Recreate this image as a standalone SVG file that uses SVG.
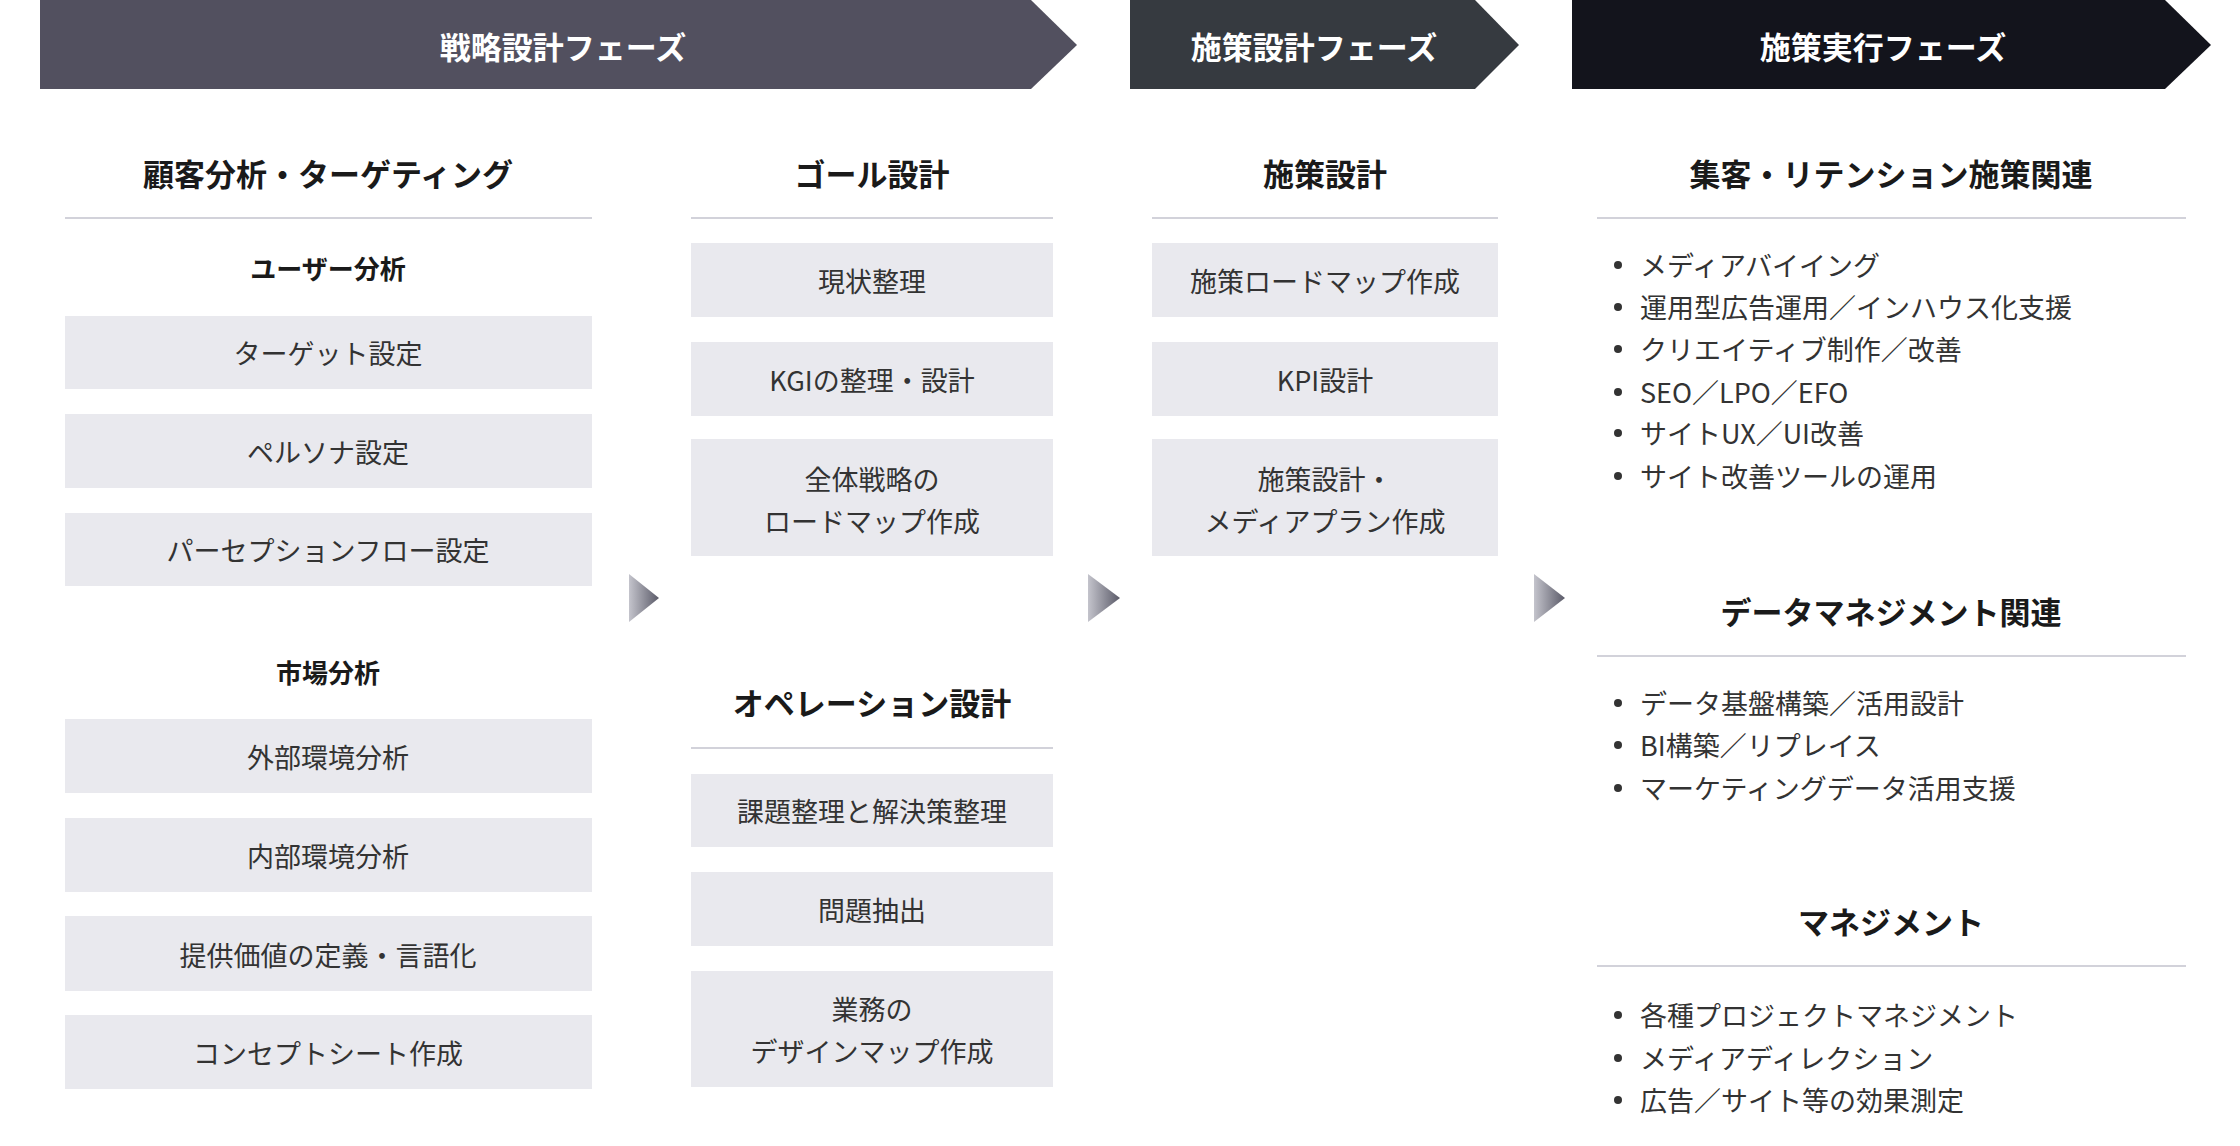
<svg xmlns="http://www.w3.org/2000/svg" width="2240" height="1146" viewBox="0 0 2240 1146">
<defs>
<linearGradient id="ag" x1="0" y1="0" x2="1" y2="0"><stop offset="0" stop-color="#c4c4cc"/><stop offset="1" stop-color="#5a5a68"/></linearGradient>
<style>
text{font-family:"Noto Sans CJK JP","Noto Sans",sans-serif;text-anchor:middle;dominant-baseline:central}
.ph{fill:#fff;font-size:31px;font-weight:bold}
.h{fill:#1a1a1a;font-size:31px;font-weight:bold}
.s{fill:#1a1a1a;font-size:26px;font-weight:bold}
.b{fill:#e9e9ee}
.t{fill:#333;font-size:27px}
.l{fill:#333;font-size:27px;text-anchor:start}
.ln{stroke:#d2d2da;stroke-width:2}
.dot{fill:#333}
</style>
</defs>
<g id="phase1"><polygon points="40,0 1031,0 1077,45 1031,89 40,89" fill="#52505f"/><text class="ph" x="563" y="45">戦略設計フェーズ</text></g>
<g id="phase2"><polygon points="1130,0 1475,0 1519,45 1475,89 1130,89" fill="#363a40"/><text class="ph" x="1314" y="45">施策設計フェーズ</text></g>
<g id="phase3"><polygon points="1572,0 2165,0 2211,45 2165,89 1572,89" fill="#13141c"/><text class="ph" x="1883" y="45">施策実行フェーズ</text></g>

<g id="connectors">
<polygon points="629,574 659,598 629,622" fill="url(#ag)"/>
<polygon points="1088,574 1120,598 1088,622" fill="url(#ag)"/>
<polygon points="1534,574 1565,598 1534,622" fill="url(#ag)"/>
</g>

<g id="col1">
<text class="h" x="328" y="172">顧客分析・ターゲティング</text>
<line class="ln" x1="65" y1="218" x2="592" y2="218"/>
<text class="s" x="328" y="267">ユーザー分析</text>
<rect class="b" x="65" y="316" width="527" height="73"/><text class="t" x="328" y="352">ターゲット設定</text>
<rect class="b" x="65" y="414" width="527" height="74"/><text class="t" x="328" y="451">ペルソナ設定</text>
<rect class="b" x="65" y="513" width="527" height="73"/><text class="t" x="328" y="549">パーセプションフロー設定</text>
<text class="s" x="328" y="671">市場分析</text>
<rect class="b" x="65" y="719" width="527" height="74"/><text class="t" x="328" y="756">外部環境分析</text>
<rect class="b" x="65" y="818" width="527" height="74"/><text class="t" x="328" y="855">内部環境分析</text>
<rect class="b" x="65" y="916" width="527" height="75"/><text class="t" x="328" y="954">提供価値の定義・言語化</text>
<rect class="b" x="65" y="1015" width="527" height="74"/><text class="t" x="328" y="1052">コンセプトシート作成</text>
</g>

<g id="col2">
<text class="h" x="872" y="172">ゴール設計</text>
<line class="ln" x1="691" y1="218" x2="1053" y2="218"/>
<rect class="b" x="691" y="243" width="362" height="74"/><text class="t" x="872" y="280">現状整理</text>
<rect class="b" x="691" y="342" width="362" height="74"/><text class="t" x="872" y="379">KGIの整理・設計</text>
<rect class="b" x="691" y="439" width="362" height="117"/><text class="t" x="872" y="478">全体戦略の</text><text class="t" x="872" y="520">ロードマップ作成</text>
<text class="h" x="872" y="701">オペレーション設計</text>
<line class="ln" x1="691" y1="748" x2="1053" y2="748"/>
<rect class="b" x="691" y="774" width="362" height="73"/><text class="t" x="872" y="810">課題整理と解決策整理</text>
<rect class="b" x="691" y="872" width="362" height="74"/><text class="t" x="872" y="909">問題抽出</text>
<rect class="b" x="691" y="971" width="362" height="116"/><text class="t" x="872" y="1008">業務の</text><text class="t" x="872" y="1050">デザインマップ作成</text>
</g>

<g id="col3">
<text class="h" x="1325" y="172">施策設計</text>
<line class="ln" x1="1152" y1="218" x2="1498" y2="218"/>
<rect class="b" x="1152" y="243" width="346" height="74"/><text class="t" x="1325" y="280">施策ロードマップ作成</text>
<rect class="b" x="1152" y="342" width="346" height="74"/><text class="t" x="1325" y="379">KPI設計</text>
<rect class="b" x="1152" y="439" width="346" height="117"/><text class="t" x="1325" y="478">施策設計・</text><text class="t" x="1325" y="520">メディアプラン作成</text>
</g>

<g id="col4">
<text class="h" x="1891" y="172">集客・リテンション施策関連</text>
<line class="ln" x1="1597" y1="218" x2="2186" y2="218"/>
<g>
<circle class="dot" cx="1618" cy="265" r="4"/><text class="l" x="1640" y="264">メディアバイイング</text>
<circle class="dot" cx="1618" cy="307" r="4"/><text class="l" x="1640" y="306">運用型広告運用／インハウス化支援</text>
<circle class="dot" cx="1618" cy="349" r="4"/><text class="l" x="1640" y="348">クリエイティブ制作／改善</text>
<circle class="dot" cx="1618" cy="392" r="4"/><text class="l" x="1640" y="391">SEO／LPO／EFO</text>
<circle class="dot" cx="1618" cy="433" r="4"/><text class="l" x="1640" y="432">サイトUX／UI改善</text>
<circle class="dot" cx="1618" cy="476" r="4"/><text class="l" x="1640" y="475">サイト改善ツールの運用</text>
</g>
<text class="h" x="1891" y="610">データマネジメント関連</text>
<line class="ln" x1="1597" y1="656" x2="2186" y2="656"/>
<circle class="dot" cx="1618" cy="703" r="4"/><text class="l" x="1640" y="702">データ基盤構築／活用設計</text>
<circle class="dot" cx="1618" cy="745" r="4"/><text class="l" x="1640" y="744">BI構築／リプレイス</text>
<circle class="dot" cx="1618" cy="788" r="4"/><text class="l" x="1640" y="787">マーケティングデータ活用支援</text>
<text class="h" x="1891" y="920">マネジメント</text>
<line class="ln" x1="1597" y1="966" x2="2186" y2="966"/>
<circle class="dot" cx="1618" cy="1015" r="4"/><text class="l" x="1640" y="1014">各種プロジェクトマネジメント</text>
<circle class="dot" cx="1618" cy="1058" r="4"/><text class="l" x="1640" y="1057">メディアディレクション</text>
<circle class="dot" cx="1618" cy="1100" r="4"/><text class="l" x="1640" y="1099">広告／サイト等の効果測定</text>
</g>
</svg>
